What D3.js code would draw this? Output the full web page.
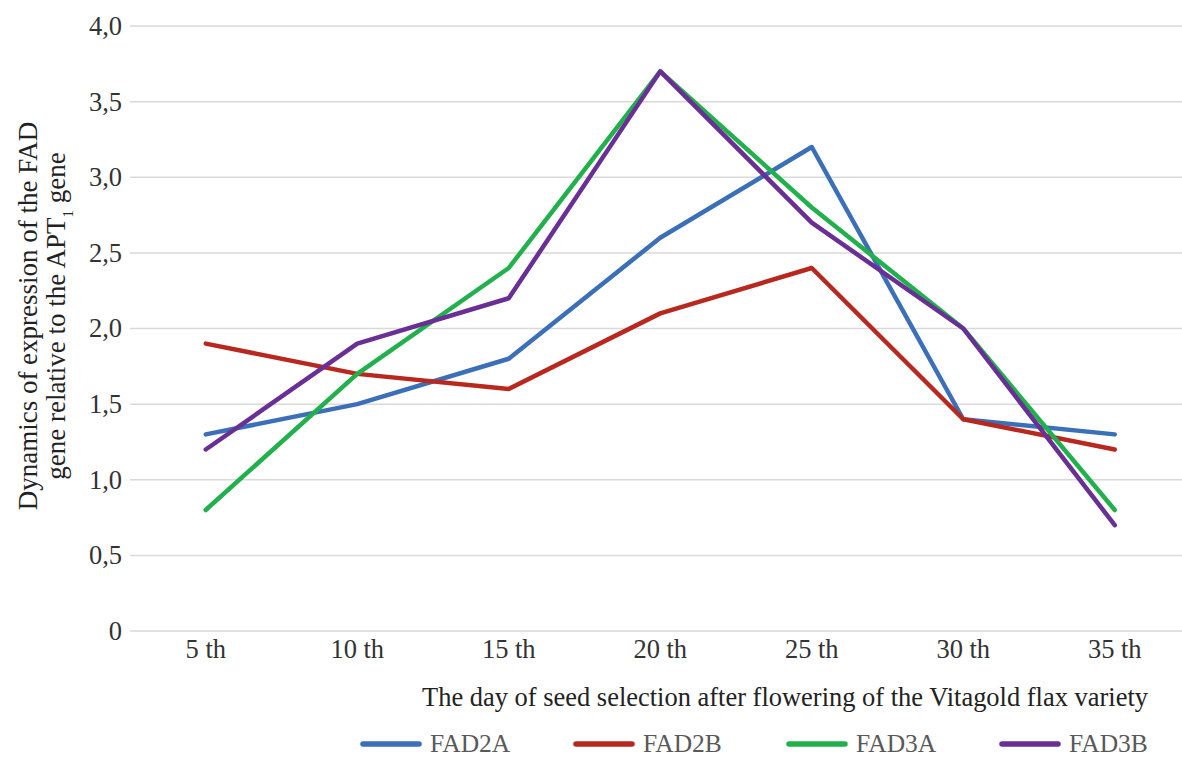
<!DOCTYPE html>
<html>
<head>
<meta charset="utf-8">
<script src="https://cdn.jsdelivr.net/npm/d3@7"></script>
<style>
  body { margin: 0; background: #fff; }
</style>
</head>
<body>
<svg width="1182" height="758"></svg>
<script>
// categories and series
var days = ["5 th", "10 th", "15 th", "20 th", "25 th", "30 th", "35 th"];
var fad2a = [1.3, 1.5, 1.8, 2.6, 3.2, 1.4, 1.3];
var fad2b = [1.9, 1.7, 1.6, 2.1, 2.4, 1.4, 1.2];
var fad3a = [0.8, 1.7, 2.4, 3.7, 2.8, 2.0, 0.8];
var fad3b = [1.2, 1.9, 2.2, 3.7, 2.7, 2.0, 0.7];
var yTicks = [0, 0.5, 1, 1.5, 2, 2.5, 3, 3.5, 4];

var series = [
    {name: "FAD2A", values: fad2a, color: "#3b6fb8"},
    {name: "FAD2B", values: fad2b, color: "#b8281f"},
    {name: "FAD3A", values: fad3a, color: "#22b04c"},
    {name: "FAD3B", values: fad3b, color: "#692f94"}
];

var serif = "'Liberation Serif', 'Times New Roman', Tinos, 'DejaVu Serif', serif";

var margin = {top: 26, left: 130},
    width = 1060,
    height = 605;

var svg = d3.select("svg").attr("font-family", serif);
var g = svg.append("g")
    .attr("transform", "translate(" + margin.left + "," + margin.top + ")");

var x = d3.scaleBand()
    .domain(days)
    .range([0, 7 * 151.5]);

var y = d3.scaleLinear()
    .domain([0, 4])
    .range([height, 0]);

// gridlines
g.selectAll("line.grid")
    .data(yTicks)
    .enter()
    .append("line")
    .attr("class", "grid")
    .attr("x1", 0)
    .attr("x2", width)
    .attr("y1", function(d) { return y(d); })
    .attr("y2", function(d) { return y(d); })
    .attr("stroke", "#d9d9d9")
    .attr("stroke-width", 1.5);

// y axis labels, comma decimals
var fmt = function(d) { return d === 0 ? "0" : d3.format(".1f")(d).replace(".", ","); };
var yAxis = g.append("g")
    .call(d3.axisLeft(y).tickValues(yTicks).tickFormat(fmt).tickSize(0).tickPadding(8));
yAxis.select(".domain").remove();
yAxis.attr("font-family", serif).attr("font-size", 26.5);
yAxis.selectAll("text").attr("fill", "#333");

// x axis labels
var xAxis = g.append("g")
    .attr("transform", "translate(0," + height + ")")
    .call(d3.axisBottom(x).tickSize(0).tickPadding(8));
xAxis.select(".domain").remove();
xAxis.attr("font-family", serif).attr("font-size", 26.5);
xAxis.selectAll("text").attr("fill", "#333");

// lines
var line = d3.line()
    .x(function(d, i) { return x(days[i]) + x.bandwidth() / 2; })
    .y(function(d) { return y(d); });

g.selectAll("path.series")
    .data(series)
    .enter()
    .append("path")
    .attr("class", "series")
    .attr("d", function(s) { return line(s.values); })
    .attr("fill", "none")
    .attr("stroke", function(s) { return s.color; })
    .attr("stroke-width", 4.5)
    .attr("stroke-linejoin", "round")
    .attr("stroke-linecap", "round");

// x axis title
svg.append("text")
    .attr("x", 422)
    .attr("y", 706)
    .attr("fill", "#222")
    .attr("font-size", 27.5)
    .attr("textLength", 726)
    .attr("lengthAdjust", "spacingAndGlyphs")
    .text("The day of seed selection after flowering of the Vitagold flax variety");

// y axis title, two lines
var yt = svg.append("text")
    .attr("transform", "translate(0,316) rotate(-90)")
    .attr("text-anchor", "middle")
    .attr("fill", "#222")
    .attr("font-size", 27);
yt.append("tspan").attr("x", 0).attr("y", 37).text("Dynamics of expression of the FAD");
var t2 = yt.append("tspan").attr("x", 0).attr("y", 65);
t2.append("tspan").text("gene relative to the APT");
t2.append("tspan").attr("baseline-shift", "sub").attr("font-size", 15).text("1");
t2.append("tspan").text(" gene");

// legend
var legend = svg.append("g").attr("transform", "translate(363,744)");
var item = legend.selectAll("g")
    .data(series)
    .enter()
    .append("g")
    .attr("transform", function(d, i) { return "translate(" + (i * 213) + ",0)"; });
item.append("line")
    .attr("x1", 0).attr("x2", 56)
    .attr("stroke", function(d) { return d.color; })
    .attr("stroke-width", 5.5)
    .attr("stroke-linecap", "round");
item.append("text")
    .attr("x", 67)
    .attr("y", 8)
    .attr("fill", "#595959")
    .attr("font-size", 25.5)
    .text(function(d) { return d.name; });
</script>
</body>
</html>
